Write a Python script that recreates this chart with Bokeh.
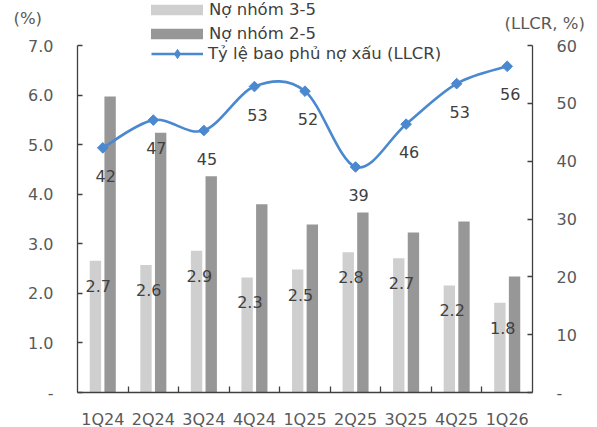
import numpy as np
from bokeh.plotting import figure
from bokeh.models import (ColumnDataSource, Range1d, LinearAxis, FixedTicker,
                          Legend, LegendItem, Label)
from bokeh.embed import file_html
from bokeh.resources import INLINE
from bokeh.core.properties import value

# ---------------- data ----------------
categories = ["1Q24", "2Q24", "3Q24", "4Q24", "1Q25", "2Q25", "3Q25", "4Q25", "1Q26"]
npl_3_5 = [2.66, 2.57, 2.86, 2.32, 2.48, 2.83, 2.71, 2.16, 1.81]
npl_2_5 = [5.97, 5.24, 4.36, 3.80, 3.39, 3.63, 3.23, 3.45, 2.34]
llcr = [42.3, 47.1, 45.3, 52.9, 52.1, 39.0, 46.4, 53.4, 56.4]

left_ticks = [0, 1, 2, 3, 4, 5, 6, 7]
left_tick_labels = ["-", "1.0", "2.0", "3.0", "4.0", "5.0", "6.0", "7.0"]
right_ticks = [0, 10, 20, 30, 40, 50, 60]
right_tick_labels = ["-", "10", "20", "30", "40", "50", "60"]

series_names = ["Nợ nhóm 3-5", "Nợ nhóm 2-5", "Tỷ lệ bao phủ nợ xấu (LLCR)"]
left_title = "(%)"
right_title = "(LLCR, %)"

# ---------------- style ----------------
FONT = "DejaVu Sans"
FS = "16px"
FS_BIG = "16.5px"
AXIS_TXT = "#595959"
DATA_TXT = "#404040"
LIGHT = "#CFCFCF"
DARK = "#979797"
BLUE = "#4A88CF"
AXIS_LINE = "#404040"

W, H = 597, 427
PX_L, PX_R, PX_T, PX_B = 77, 532, 45, 392   # plotting box (axis lines) in pixels

n = len(categories)
xpos = np.arange(n, dtype=float)
LMAX, RMAX = left_ticks[-1], right_ticks[-1]

# ranges that make the frame cover the whole canvas, axes drawn at fixed places
x_lo, x_hi = -0.5, n - 0.5
sx = (PX_R - PX_L) / (x_hi - x_lo)
syl = (PX_B - PX_T) / LMAX
syr = (PX_B - PX_T) / RMAX
x_range = Range1d(x_lo - PX_L / sx, x_hi + (W - PX_R) / sx)
yl_range = Range1d(-(H - PX_B) / syl, LMAX + PX_T / syl)
yr_range = Range1d(-(H - PX_B) / syr, RMAX + PX_T / syr)

p = figure(width=W, height=H, output_backend="svg", toolbar_location=None,
           x_range=x_range, y_range=yl_range,
           min_border_left=0, min_border_right=0, min_border_top=0,
           min_border_bottom=0, min_border=0)
p.extra_y_ranges = {"llcr": yr_range}
p.outline_line_color = None
p.xgrid.visible = False
p.ygrid.visible = False
p.background_fill_color = "white"
p.border_fill_color = "white"

src = ColumnDataSource(dict(
    x=xpos,
    x_light=xpos - 0.145,
    x_dark=xpos + 0.145,
    x_lab=xpos - 0.09,
    npl35=npl_3_5,
    npl25=npl_2_5,
    lab35=[f"{v:.1f}" for v in npl_3_5],
    llcr=llcr,
    lab_llcr=[f"{v:.0f}" for v in llcr],
))

r_light = p.vbar(x="x_light", top="npl35", width=0.225, source=src,
                 fill_color=LIGHT, line_color=None)
r_dark = p.vbar(x="x_dark", top="npl25", width=0.225, source=src,
                fill_color=DARK, line_color=None)

# smooth (Excel-like) line through the LLCR points as cubic Bezier segments
xs = list(xpos)
ys = list(llcr)
x0, y0, x1, y1, cx0, cy0, cx1, cy1 = [], [], [], [], [], [], [], []
for i in range(n - 1):
    xm, ym = (xs[i - 1], ys[i - 1]) if i > 0 else (xs[i], ys[i])
    xp, yp = (xs[i + 2], ys[i + 2]) if i + 2 < n else (xs[i + 1], ys[i + 1])
    x0.append(xs[i]); y0.append(ys[i])
    x1.append(xs[i + 1]); y1.append(ys[i + 1])
    cx0.append(xs[i] + (xs[i + 1] - xm) / 6); cy0.append(ys[i] + (ys[i + 1] - ym) / 6)
    cx1.append(xs[i + 1] - (xp - xs[i]) / 6); cy1.append(ys[i + 1] - (yp - ys[i]) / 6)
bez = ColumnDataSource(dict(x0=x0, y0=y0, x1=x1, y1=y1, cx0=cx0, cy0=cy0, cx1=cx1, cy1=cy1))
p.bezier(x0="x0", y0="y0", x1="x1", y1="y1", cx0="cx0", cy0="cy0", cx1="cx1", cy1="cy1",
         source=bez, line_color=BLUE, line_width=2.6, y_range_name="llcr")
r_mark = p.scatter(x="x", y="llcr", source=src, marker="square", angle=np.pi / 4,
                   size=7.5, fill_color=BLUE, line_color=BLUE, y_range_name="llcr")
# legend-only helpers (single point: draws nothing visible on the chart)
r_leg_line = p.line(x=xs[:1], y=ys[:1], line_color=BLUE, line_width=2.6, y_range_name="llcr")
r_leg_mark = p.scatter(x=xs[:1], y=ys[:1], marker="diamond", size=1,
                       fill_color=BLUE, line_color=BLUE, y_range_name="llcr")

# data labels
p.text(x="x_lab", y="npl35", text="lab35", source=src, y_offset=25,
       text_align="center", text_baseline="middle", text_font=value(FONT),
       text_font_size=FS, text_color=DATA_TXT)
p.text(x="x", y="llcr", text="lab_llcr", source=src, x_offset=3, y_offset=28,
       text_align="center", text_baseline="middle", text_font=value(FONT),
       text_font_size=FS, text_color=DATA_TXT, y_range_name="llcr")

# axes (drawn at fixed data locations, so the frame spans the whole canvas)
def style_axis(ax):
    ax.axis_line_color = AXIS_LINE
    ax.axis_line_width = 1.3
    ax.major_tick_line_color = AXIS_LINE
    ax.major_tick_line_width = 1.3
    ax.major_label_text_font = FONT
    ax.major_label_text_font_size = FS
    ax.major_label_text_color = AXIS_TXT

ly = p.yaxis[0]
style_axis(ly)
ly.fixed_location = x_lo
ly.bounds = (0, LMAX)
ly.ticker = FixedTicker(ticks=left_ticks)
ly.major_label_overrides = dict(zip(left_ticks, left_tick_labels))
ly.major_tick_in = 5
ly.major_tick_out = 0
ly.minor_tick_line_color = None
ly.major_label_standoff = 24

ry = LinearAxis(y_range_name="llcr")
style_axis(ry)
ry.fixed_location = x_hi
ry.bounds = (0, RMAX)
ry.ticker = FixedTicker(ticks=right_ticks)
ry.major_label_overrides = dict(zip(right_ticks, right_tick_labels))
ry.major_tick_in = 5
ry.major_tick_out = 0
ry.minor_tick_line_color = None
ry.major_label_standoff = 24
p.add_layout(ry, "right")

bx = p.xaxis[0]
style_axis(bx)
bx.fixed_location = 0
bx.bounds = (x_lo, x_hi)
bx.ticker = FixedTicker(ticks=list(xpos), minor_ticks=list(xpos[:-1] + 0.5))
bx.major_label_overrides = {float(i): c for i, c in enumerate(categories)}
bx.major_tick_in = 0
bx.major_tick_out = 0
bx.minor_tick_in = 6
bx.minor_tick_out = 0
bx.minor_tick_line_color = AXIS_LINE
bx.minor_tick_line_width = 1.3
bx.major_label_standoff = 17

# legends (frame == canvas, so locations are canvas pixels from bottom-left)
leg_common = dict(orientation="vertical", padding=0, margin=0,
                  border_line_color=None, background_fill_alpha=0,
                  label_text_font=FONT, label_text_font_size=FS_BIG,
                  label_text_color=DATA_TXT)
legend1 = Legend(items=[
    LegendItem(label=series_names[0], renderers=[r_light]),
    LegendItem(label=series_names[1], renderers=[r_dark]),
], location=(144, H - 43), glyph_width=65, glyph_height=13, label_height=13,
    spacing=5, label_standoff=0, **leg_common)
legend2 = Legend(items=[
    LegendItem(label=series_names[2], renderers=[r_leg_line, r_leg_mark]),
], location=(151, H - 65), glyph_width=52, glyph_height=23, label_height=23,
    spacing=0, label_standoff=5, **leg_common)
p.add_layout(legend1)
p.add_layout(legend2)

p.add_layout(Label(x=13, y=H - 18, x_units="screen", y_units="screen", text=left_title,
                   text_align="left", text_baseline="middle", text_font=FONT,
                   text_font_size=FS_BIG, text_color=AXIS_TXT))
p.add_layout(Label(x=504, y=H - 23, x_units="screen", y_units="screen", text=right_title,
                   text_align="left", text_baseline="middle", text_font=FONT,
                   text_font_size=FS_BIG, text_color=AXIS_TXT))

open("out.html", "w").write(file_html(p, INLINE))
